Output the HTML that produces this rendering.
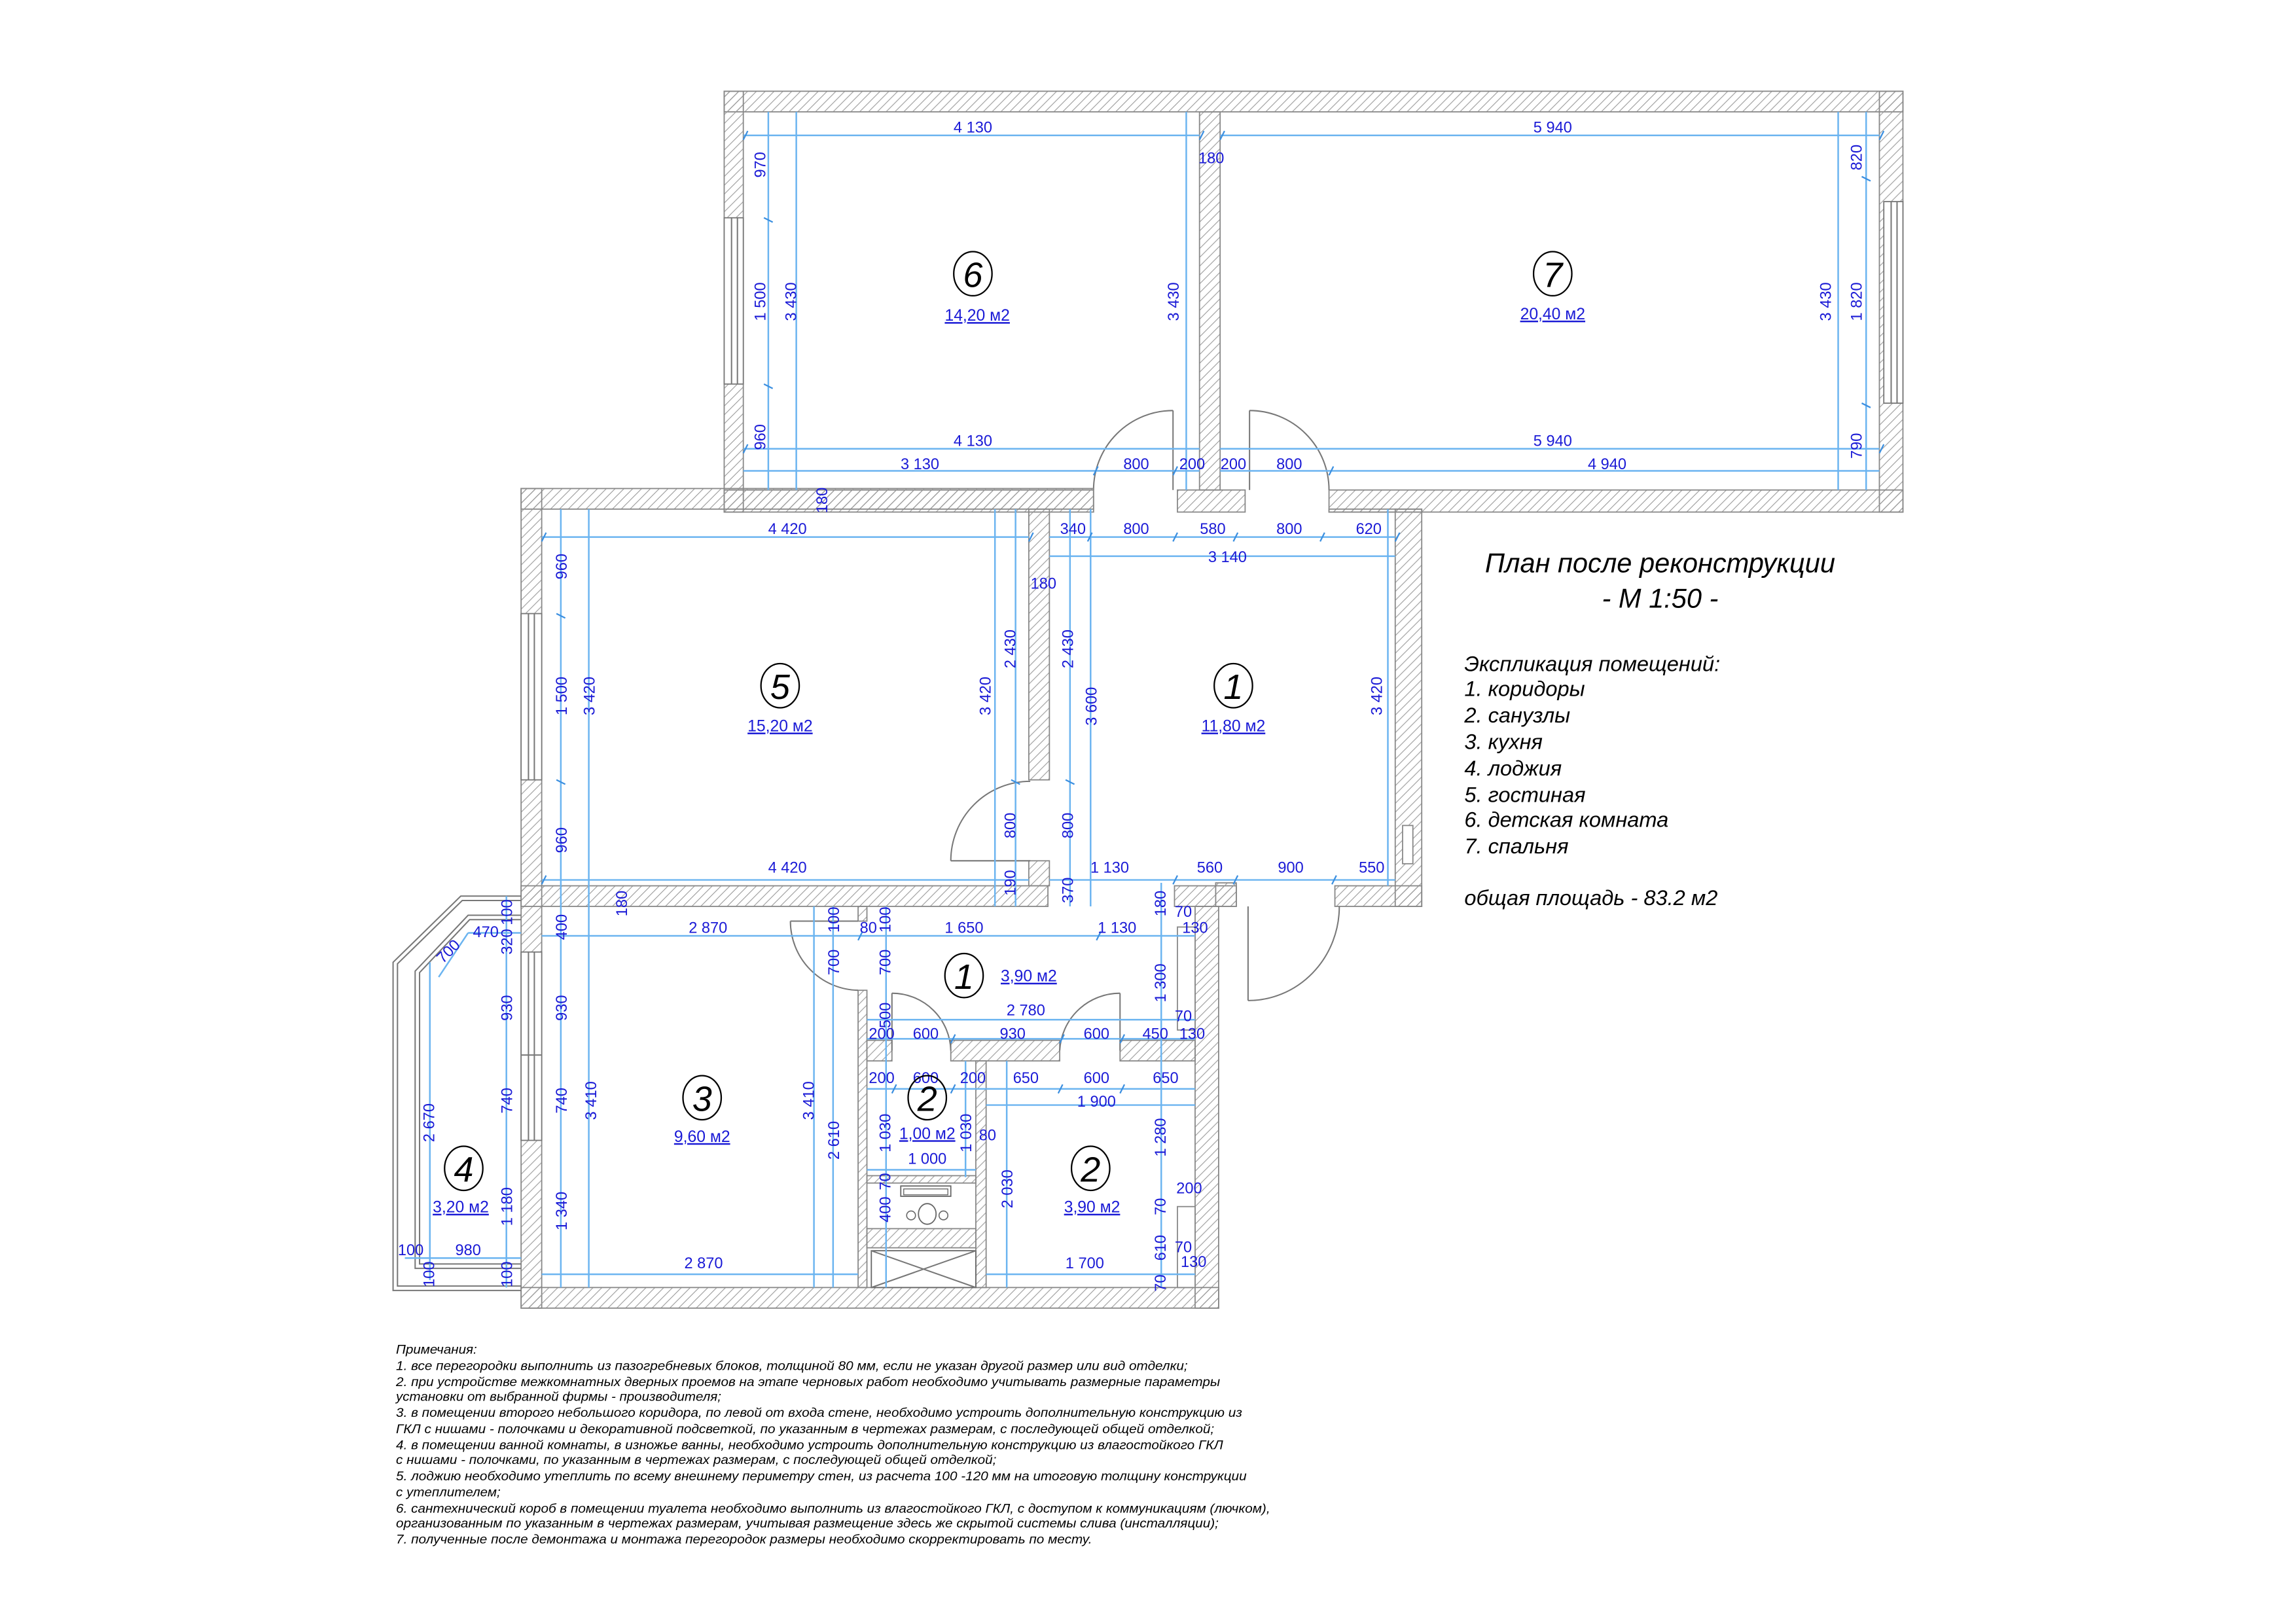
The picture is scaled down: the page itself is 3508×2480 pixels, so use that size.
<!DOCTYPE html>
<html><head><meta charset="utf-8"><style>
html,body{margin:0;padding:0;background:#fff;}
svg{display:block;}
.d{stroke:#6bb4f0;stroke-width:1.1;fill:none}
.t{fill:#1a1ad6;font-family:"Liberation Sans",sans-serif;font-size:10.5px;text-anchor:middle}
.a{fill:#1a1ad6;font-family:"Liberation Sans",sans-serif;font-size:11px;text-anchor:middle;text-decoration:underline}
.n{fill:#000;font-family:"Liberation Sans",sans-serif;font-size:24px;text-anchor:middle;font-style:italic}
.w{fill:url(#h);stroke:#888;stroke-width:0.8}
.l{stroke:#777;stroke-width:0.9;fill:none}
.note{font-family:"Liberation Sans","Noto Sans CJK SC",sans-serif;font-style:italic;font-size:8.6px;fill:#000}
.ti{font-family:"Liberation Sans","Noto Sans CJK SC",sans-serif;font-style:italic;fill:#000}
</style></head><body>
<svg width="3508" height="2480" viewBox="0 0 1560 1103" xmlns="http://www.w3.org/2000/svg">
<defs><pattern id="h" patternUnits="userSpaceOnUse" width="6" height="6"><path d="M0,6 L6,0 M-1,1 L1,-1 M5,7 L7,5" stroke="#999" stroke-width="0.5"/></pattern></defs>
<rect width="1560" height="1103" fill="#fff"/>

<!-- Upper block walls -->
<rect class="w" x="492" y="62" width="801" height="14"/>
<rect class="w" x="492" y="62" width="13" height="286"/>
<rect class="w" x="1277" y="62" width="16" height="286"/>
<rect class="w" x="815" y="76" width="14" height="257"/>
<rect class="w" x="492" y="333" width="251" height="15"/>
<rect class="w" x="800" y="333" width="46" height="15"/>
<rect class="w" x="903" y="333" width="390" height="15"/>
<rect x="492" y="148" width="13" height="113" fill="#fff" stroke="#777" stroke-width="0.8"/>
<line class="l" x1="497" y1="148" x2="497" y2="261"/><line class="l" x1="501" y1="148" x2="501" y2="261"/>
<rect x="1280" y="137" width="13" height="137" fill="#fff" stroke="#777" stroke-width="0.8"/>
<line class="l" x1="1285" y1="137" x2="1285" y2="274"/><line class="l" x1="1289" y1="137" x2="1289" y2="274"/>
<line class="l" x1="797" y1="333" x2="797" y2="279"/><path class="l" d="M797,279 A54,54 0 0 0 743,333"/>
<line class="l" x1="849" y1="333" x2="849" y2="279"/><path class="l" d="M849,279 A54,54 0 0 1 903,333"/>

<!-- Lower block walls -->
<rect class="w" x="354" y="332" width="389" height="14"/>
<rect class="w" x="903" y="346" width="63" height="2"/>
<rect class="w" x="354" y="332" width="14" height="557"/>
<rect class="w" x="699" y="346" width="14" height="184"/>
<rect class="w" x="699" y="585" width="14" height="17"/>
<rect class="w" x="948" y="346" width="18" height="270"/>
<rect class="w" x="354" y="602" width="358" height="14"/>
<rect class="w" x="798" y="602" width="42" height="14"/>
<rect class="w" x="907" y="602" width="59" height="14"/>
<rect class="w" x="812" y="616" width="16" height="273"/>
<rect class="w" x="826" y="600" width="14" height="16"/>
<rect class="w" x="354" y="875" width="474" height="14"/>
<rect class="w" x="583" y="616" width="6" height="10"/>
<rect class="w" x="583" y="673" width="6" height="202"/>
<rect class="w" x="589" y="707" width="17" height="14"/>
<rect class="w" x="646" y="707" width="74" height="14"/>
<rect class="w" x="761" y="707" width="51" height="14"/>
<rect class="w" x="663" y="721" width="7" height="154"/>
<rect class="w" x="589" y="799" width="74" height="5"/>
<rect class="w" x="589" y="835" width="74" height="13"/>
<rect x="800" y="630" width="12" height="70" fill="#fff" stroke="#888" stroke-width="0.8"/>
<rect x="800" y="820" width="12" height="55" fill="#fff" stroke="#888" stroke-width="0.8"/>
<rect x="953" y="561" width="7" height="26" fill="#fff" stroke="#888" stroke-width="0.8"/>
<rect x="354" y="417" width="14" height="113" fill="#fff" stroke="#777" stroke-width="0.8"/>
<line class="l" x1="359" y1="417" x2="359" y2="530"/><line class="l" x1="363" y1="417" x2="363" y2="530"/>
<rect x="354" y="647" width="14" height="128" fill="#fff" stroke="#777" stroke-width="0.8"/>
<line class="l" x1="359" y1="647" x2="359" y2="775"/><line class="l" x1="363" y1="647" x2="363" y2="775"/>
<line class="l" x1="354" y1="717" x2="368" y2="717"/>
<line class="l" x1="700" y1="585" x2="646" y2="585"/><path class="l" d="M646,585 A54,54 0 0 1 700,531"/>
<line class="l" x1="583" y1="626" x2="537" y2="626"/><path class="l" d="M537,626 A47,47 0 0 0 583,673"/>
<line class="l" x1="606" y1="714" x2="606" y2="675"/><path class="l" d="M606,675 A40,40 0 0 1 646,714"/>
<line class="l" x1="761" y1="714" x2="761" y2="675"/><path class="l" d="M761,675 A41,41 0 0 0 720,714"/>
<line class="l" x1="848" y1="616" x2="848" y2="680"/><path class="l" d="M848,680 A62,64 0 0 0 910,616"/>
<path class="l" d="M354,877 L267,877 L267,654 L313,609 L354,609"/>
<path class="l" d="M354,874 L270,874 L270,655 L314,612 L354,612"/>
<path class="l" d="M354,862 L282,862 L282,660 L318,622 L354,622"/>
<path class="l" d="M354,859 L285,859 L285,661 L319,625 L354,625"/>
<rect x="612" y="806" width="34" height="7" fill="#fff" stroke="#666" stroke-width="0.8"/>
<rect x="614" y="808" width="30" height="4" fill="none" stroke="#666" stroke-width="0.6"/>
<ellipse cx="630" cy="825" rx="6" ry="7" fill="none" stroke="#666" stroke-width="0.8"/>
<circle cx="619" cy="826" r="3" fill="none" stroke="#666" stroke-width="0.7"/>
<circle cx="641" cy="826" r="3" fill="none" stroke="#666" stroke-width="0.7"/>
<rect x="592" y="850" width="71" height="25" fill="#fff" stroke="#666" stroke-width="0.8"/>
<path class="l" d="M592,850 L663,875 M663,850 L592,875"/>

<g class="d">
<path d="M505,92H815M829,92H1277M505,305H815M829,305H1277M505,320H815M829,320H1277"/>
<path d="M522,76V333M541,76V333M806,76V333M1249,76V333M1268,76V333"/>
<path d="M368,365H699M713,365H948M713,378H948M368,598H699M713,598H948"/>
<path d="M381,346V616M400,346V616M676,346V616M690,346V616M727,346V616M741,346V616M943,346V602"/>
<path d="M368,636H812M589,693H812M589,706H812M589,740H812M670,751H812M589,795H663M368,866H583M670,866H812"/>
<path d="M381,616V875M400,616V875M553,616V875M566,616V875M602,616V875M656,721V800M684,721V875M789,600V875"/>
<path d="M344,609V875M292,654V870M318,634H354M275,855H354M298,664L318,634"/>
</g>
<g stroke="#3b8fe0" stroke-width="1">
<path d="M505,95l3,-6M815,95l3,-6M829,95l3,-6M1277,95l3,-6M505,308l3,-6M1277,308l3,-6M743,323l3,-6M797,323l3,-6M903,323l3,-6M368,368l3,-6M699,368l3,-6M739,368l3,-6M797,368l3,-6M838,368l3,-6M897,368l3,-6M948,368l3,-6M368,601l3,-6M797,601l3,-6M838,601l3,-6M905,601l3,-6M519,148l6,3M519,261l6,3M1265,120l6,3M1265,274l6,3M378,417l6,3M378,530l6,3M687,530l6,3M724,530l6,3M583,639l3,-6M745,639l3,-6M646,709l3,-6M720,709l3,-6M761,709l3,-6M606,743l3,-6M646,743l3,-6M719,743l3,-6M761,743l3,-6"/>
</g>

<g class="t">
<text x="661" y="90">4 130</text><text x="1055" y="90">5 940</text>
<text x="661" y="303">4 130</text><text x="1055" y="303">5 940</text>
<text x="625" y="319">3 130</text><text x="772" y="319">800</text><text x="810" y="319">200</text><text x="838" y="319">200</text><text x="876" y="319">800</text><text x="1092" y="319">4 940</text>
<text x="823" y="111">180</text>
<text x="535" y="363">4 420</text><text x="729" y="363">340</text><text x="772" y="363">800</text><text x="824" y="363">580</text><text x="876" y="363">800</text><text x="930" y="363">620</text>
<text x="834" y="382">3 140</text><text x="709" y="400">180</text>
<text x="535" y="593">4 420</text><text x="754" y="593">1 130</text><text x="822" y="593">560</text><text x="877" y="593">900</text><text x="932" y="593">550</text>
<text x="481" y="634">2 870</text><text x="590" y="634">80</text><text x="655" y="634">1 650</text><text x="759" y="634">1 130</text><text x="812" y="634">130</text><text x="804" y="623">70</text>
<text x="697" y="690">2 780</text><text x="804" y="694">70</text>
<text x="599" y="706">200</text><text x="629" y="706">600</text><text x="688" y="706">930</text><text x="745" y="706">600</text><text x="785" y="706">450</text><text x="810" y="706">130</text>
<text x="599" y="736">200</text><text x="629" y="736">600</text><text x="661" y="736">200</text><text x="697" y="736">650</text><text x="745" y="736">600</text><text x="792" y="736">650</text>
<text x="745" y="752">1 900</text><text x="671" y="775">80</text><text x="630" y="791">1 000</text>
<text x="808" y="811">200</text><text x="804" y="851">70</text><text x="811" y="861">130</text>
<text x="478" y="862">2 870</text><text x="737" y="862">1 700</text>
<text x="330" y="637">470</text><text x="279" y="853">100</text><text x="318" y="853">980</text>
<text transform="rotate(-45 307 649)" x="307" y="649">700</text>
</g>
<g class="t">
<text transform="rotate(-90 520 112)" x="520" y="112">970</text>
<text transform="rotate(-90 520 205)" x="520" y="205">1 500</text>
<text transform="rotate(-90 520 297)" x="520" y="297">960</text>
<text transform="rotate(-90 541 205)" x="541" y="205">3 430</text>
<text transform="rotate(-90 801 205)" x="801" y="205">3 430</text>
<text transform="rotate(-90 1244 205)" x="1244" y="205">3 430</text>
<text transform="rotate(-90 1265 107)" x="1265" y="107">820</text>
<text transform="rotate(-90 1265 205)" x="1265" y="205">1 820</text>
<text transform="rotate(-90 1265 303)" x="1265" y="303">790</text>
<text transform="rotate(-90 562 340)" x="562" y="340">180</text>
<text transform="rotate(-90 385 385)" x="385" y="385">960</text>
<text transform="rotate(-90 385 473)" x="385" y="473">1 500</text>
<text transform="rotate(-90 385 571)" x="385" y="571">960</text>
<text transform="rotate(-90 404 473)" x="404" y="473">3 420</text>
<text transform="rotate(-90 673 473)" x="673" y="473">3 420</text>
<text transform="rotate(-90 690 441)" x="690" y="441">2 430</text>
<text transform="rotate(-90 690 561)" x="690" y="561">800</text>
<text transform="rotate(-90 690 600)" x="690" y="600">190</text>
<text transform="rotate(-90 729 441)" x="729" y="441">2 430</text>
<text transform="rotate(-90 729 561)" x="729" y="561">800</text>
<text transform="rotate(-90 729 605)" x="729" y="605">370</text>
<text transform="rotate(-90 745 480)" x="745" y="480">3 600</text>
<text transform="rotate(-90 939 473)" x="939" y="473">3 420</text>
<text transform="rotate(-90 426 614)" x="426" y="614">180</text>
<text transform="rotate(-90 385 630)" x="385" y="630">400</text>
<text transform="rotate(-90 385 685)" x="385" y="685">930</text>
<text transform="rotate(-90 385 748)" x="385" y="748">740</text>
<text transform="rotate(-90 385 823)" x="385" y="823">1 340</text>
<text transform="rotate(-90 405 748)" x="405" y="748">3 410</text>
<text transform="rotate(-90 553 748)" x="553" y="748">3 410</text>
<text transform="rotate(-90 570 775)" x="570" y="775">2 610</text>
<text transform="rotate(-90 570 625)" x="570" y="625">100</text>
<text transform="rotate(-90 570 654)" x="570" y="654">700</text>
<text transform="rotate(-90 605 625)" x="605" y="625">100</text>
<text transform="rotate(-90 605 654)" x="605" y="654">700</text>
<text transform="rotate(-90 605 690)" x="605" y="690">500</text>
<text transform="rotate(-90 605 770)" x="605" y="770">1 030</text>
<text transform="rotate(-90 660 770)" x="660" y="770">1 030</text>
<text transform="rotate(-90 605 803)" x="605" y="803">70</text>
<text transform="rotate(-90 605 822)" x="605" y="822">400</text>
<text transform="rotate(-90 688 808)" x="688" y="808">2 030</text>
<text transform="rotate(-90 792 614)" x="792" y="614">180</text>
<text transform="rotate(-90 792 668)" x="792" y="668">1 300</text>
<text transform="rotate(-90 792 773)" x="792" y="773">1 280</text>
<text transform="rotate(-90 792 820)" x="792" y="820">70</text>
<text transform="rotate(-90 792 848)" x="792" y="848">610</text>
<text transform="rotate(-90 792 872)" x="792" y="872">70</text>
<text transform="rotate(-90 348 620)" x="348" y="620">100</text>
<text transform="rotate(-90 348 640)" x="348" y="640">320</text>
<text transform="rotate(-90 348 685)" x="348" y="685">930</text>
<text transform="rotate(-90 348 748)" x="348" y="748">740</text>
<text transform="rotate(-90 348 820)" x="348" y="820">1 180</text>
<text transform="rotate(-90 348 866)" x="348" y="866">100</text>
<text transform="rotate(-90 295 763)" x="295" y="763">2 670</text>
<text transform="rotate(-90 295 866)" x="295" y="866">100</text>
</g>

<g fill="none" stroke="#000" stroke-width="1">
<ellipse cx="661" cy="186" rx="13" ry="15"/><ellipse cx="1055" cy="186" rx="13" ry="15"/>
<ellipse cx="530" cy="466" rx="13" ry="15"/><ellipse cx="838" cy="466" rx="13" ry="15"/>
<ellipse cx="477" cy="746" rx="13" ry="15"/><ellipse cx="655" cy="663" rx="13" ry="15"/>
<ellipse cx="630" cy="746" rx="13" ry="15"/><ellipse cx="741" cy="794" rx="13" ry="15"/>
<ellipse cx="315" cy="794" rx="13" ry="15"/>
</g>
<g class="n">
<text x="661" y="195">6</text><text x="1055" y="195">7</text><text x="530" y="475">5</text><text x="838" y="475">1</text>
<text x="477" y="755">3</text><text x="655" y="672">1</text><text x="630" y="755">2</text><text x="741" y="803">2</text><text x="315" y="803">4</text>
</g>
<g class="a">
<text x="664" y="218">14,20 м2</text><text x="1055" y="217">20,40 м2</text>
<text x="530" y="497">15,20 м2</text><text x="838" y="497">11,80 м2</text>
<text x="477" y="776">9,60 м2</text><text x="699" y="667">3,90 м2</text>
<text x="630" y="774">1,00 м2</text><text x="742" y="824">3,90 м2</text><text x="313" y="824">3,20 м2</text>
</g>

<text class="ti" x="1128" y="389" font-size="18.5" text-anchor="middle">План после реконструкции</text>
<text class="ti" x="1128" y="413" font-size="18.5" text-anchor="middle">- М 1:50 -</text>
<g class="ti" font-size="14.5">
<text x="995" y="456">Экспликация помещений:</text>
<text x="995" y="473">1. коридоры</text>
<text x="995" y="491">2. санузлы</text>
<text x="995" y="509">3. кухня</text>
<text x="995" y="527">4. лоджия</text>
<text x="995" y="545">5. гостиная</text>
<text x="995" y="562">6. детская комната</text>
<text x="995" y="580">7. спальня</text>
<text x="995" y="615">общая площадь - 83.2 м2</text>
</g>

<g class="note">
<text x="269" y="920" textLength="55" lengthAdjust="spacingAndGlyphs">Примечания:</text>
<text x="269" y="931" textLength="538" lengthAdjust="spacingAndGlyphs">1. все перегородки выполнить из пазогребневых блоков, толщиной 80 мм, если не указан другой размер или вид отделки;</text>
<text x="269" y="942" textLength="560" lengthAdjust="spacingAndGlyphs">2. при устройстве межкомнатных дверных проемов на этапе черновых работ необходимо учитывать размерные параметры</text>
<text x="269" y="952" textLength="221" lengthAdjust="spacingAndGlyphs">установки от выбранной фирмы - производителя;</text>
<text x="269" y="963" textLength="575" lengthAdjust="spacingAndGlyphs">3. в помещении второго небольшого коридора, по левой от входа стене, необходимо устроить дополнительную конструкцию из</text>
<text x="269" y="974" textLength="556" lengthAdjust="spacingAndGlyphs">ГКЛ с нишами - полочками и декоративной подсветкой, по указанным в чертежах размерам, с последующей общей отделкой;</text>
<text x="269" y="985" textLength="562" lengthAdjust="spacingAndGlyphs">4. в помещении ванной комнаты, в изножье ванны, необходимо устроить дополнительную конструкцию из влагостойкого ГКЛ</text>
<text x="269" y="995" textLength="408" lengthAdjust="spacingAndGlyphs">с нишами - полочками, по указанным в чертежах размерам, с последующей общей отделкой;</text>
<text x="269" y="1006" textLength="578" lengthAdjust="spacingAndGlyphs">5. лоджию необходимо утеплить по всему внешнему периметру стен, из расчета 100 -120 мм на итоговую толщину конструкции</text>
<text x="269" y="1017" textLength="71" lengthAdjust="spacingAndGlyphs">с утеплителем;</text>
<text x="269" y="1028" textLength="594" lengthAdjust="spacingAndGlyphs">6. сантехнический короб в помещении туалета необходимо выполнить из влагостойкого ГКЛ, с доступом к коммуникациям (лючком),</text>
<text x="269" y="1038" textLength="559" lengthAdjust="spacingAndGlyphs">организованным по указанным в чертежах размерам, учитывая размещение здесь же скрытой системы слива (инсталляции);</text>
<text x="269" y="1049" textLength="473" lengthAdjust="spacingAndGlyphs">7. полученные после демонтажа и монтажа перегородок размеры необходимо скорректировать по месту.</text>
</g>
</svg>
</body></html>
